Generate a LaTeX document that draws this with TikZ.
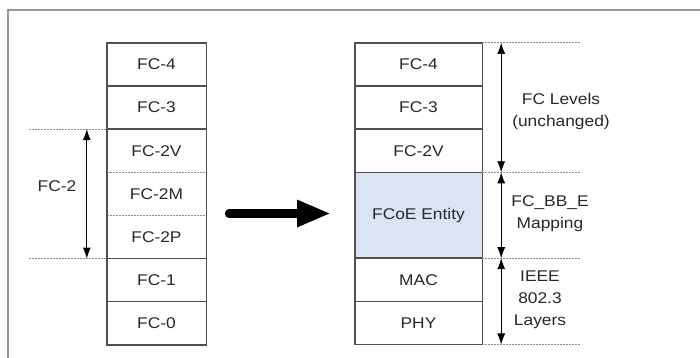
\documentclass[tikz,border=0pt]{standalone}
\usepackage{fontspec}
\setmainfont[FakeStretch=1.12]{Liberation Sans}
\usetikzlibrary{arrows.meta,positioning}
\definecolor{boxline}{RGB}{80,80,80}
\definecolor{guide}{RGB}{140,140,140}
\definecolor{framec}{RGB}{150,150,150}
\definecolor{fcoefill}{RGB}{218,228,242}
\definecolor{txt}{RGB}{40,40,40}
\tikzset{
  layer/.style={minimum height=42.75pt, inner sep=0pt, text=txt, font=\fontsize{15.5}{18}\selectfont},
  lrow/.style={layer, minimum width=99pt},
  rrow/.style={layer, minimum width=127pt},
  stackline/.style={draw=boxline, line width=1.4pt},
  guideline/.style={draw=guide, line width=0.9pt, dash pattern=on 2pt off 1pt},
  dimarrow/.style={draw=black, line width=0.9pt, {Latex[length=11pt,width=8pt]}-{Latex[length=11pt,width=8pt]}},
  lbl/.style={font=\fontsize{15.5}{22}\selectfont, text=txt, align=center, inner sep=0pt}
}
\begin{document}
\begin{tikzpicture}[x=1pt,y=-1pt]
\useasboundingbox (0,0) rectangle (700,358);
\fill[white] (0,0) rectangle (700,358);
% frame
\draw[framec, line width=1.6pt] (8,358) -- (8,10) -- (700,10);

% left stack
\node[lrow] (l4) at (156.5,64.4) {FC-4};
\node[lrow, below=0pt of l4] (l3) {FC-3};
\node[lrow, below=0pt of l3] (l2v) {FC-2V};
\node[lrow, below=0pt of l2v] (l2m) {FC-2M};
\node[lrow, below=0pt of l2m] (l2p) {FC-2P};
\node[lrow, below=0pt of l2p] (l1) {FC-1};
\node[lrow, below=0pt of l1] (l0) {FC-0};
\draw[stackline] (l4.south west) -- (l4.south east);
\draw[stackline] (l3.south west) -- (l3.south east);
\draw[guideline] (l2v.south west) -- (l2v.south east);
\draw[guideline] (l2m.south west) -- (l2m.south east);
\draw[stackline] (l2p.south west) -- (l2p.south east);
\draw[stackline] (l1.south west) -- (l1.south east);
\draw[stackline] (l4.north west) rectangle (l0.south east);

% left guides
\coordinate (lg1) at ([xshift=-78pt]l2v.north west);
\coordinate (lg2) at ([xshift=-78pt]l2p.south west);
\draw[guideline] (lg1) -- (l2v.north west);
\draw[guideline] (lg2) -- (l2p.south west);
\coordinate (la1) at ([xshift=-20pt]l2v.north west);
\coordinate (la2) at ([xshift=-20pt]l2p.south west);
\draw[dimarrow] (la1) -- (la2);
\node[lbl] (fc2) at (57,186) {FC-2};

% big arrow
\coordinate (ba1) at (229,213.5);
\coordinate (ba2) at (331,213.5);
\draw[black, line width=8.5pt, line cap=round, -{Triangle[length=34pt,width=25pt]}] (ba1) -- (ba2);

% right stack
\node[rrow] (r4) at (418.5,64.4) {FC-4};
\node[rrow, below=0pt of r4] (r3) {FC-3};
\node[rrow, below=0pt of r3] (r2v) {FC-2V};
\node[rrow, below=0pt of r2v, minimum height=85.5pt, fill=fcoefill] (fcoe) {FCoE Entity};
\node[rrow, below=0pt of fcoe] (mac) {MAC};
\node[rrow, below=0pt of mac] (phy) {PHY};
\draw[stackline] (r4.south west) -- (r4.south east);
\draw[stackline] (r3.south west) -- (r3.south east);
\draw[stackline] (r2v.south west) -- (r2v.south east);
\draw[stackline] (fcoe.south west) -- (fcoe.south east);
\draw[stackline] (mac.south west) -- (mac.south east);
\draw[stackline] (r4.north west) rectangle (phy.south east);

% right guides
\coordinate (rg1) at ([xshift=98pt]r4.north east);
\coordinate (rg2) at ([xshift=98pt]r2v.south east);
\coordinate (rg3) at ([xshift=98pt]fcoe.south east);
\coordinate (rg4) at ([xshift=98pt]phy.south east);
\draw[guideline] (r4.north east) -- (rg1);
\draw[guideline] (r2v.south east) -- (rg2);
\draw[guideline] (fcoe.south east) -- (rg3);
\draw[guideline] (phy.south east) -- (rg4);
\coordinate (ra1) at ([xshift=19pt]r4.north east);
\coordinate (ra2) at ([xshift=19pt]r2v.south east);
\coordinate (ra3) at ([xshift=19pt]fcoe.south east);
\coordinate (ra4) at ([xshift=19pt]phy.south east);
\draw[dimarrow] (ra1) -- (ra2);
\draw[dimarrow] (ra2) -- (ra3);
\draw[dimarrow] (ra3) -- (ra4);

\node[lbl] (t1) at (561,111.5) {FC Levels\\(unchanged)};
\node[lbl] (t2) at (550,213.5) {FC\_BB\_E\\Mapping};
\node[lbl] (t3) at (540,299.5) {IEEE\\802.3\\Layers};
\end{tikzpicture}
\end{document}
